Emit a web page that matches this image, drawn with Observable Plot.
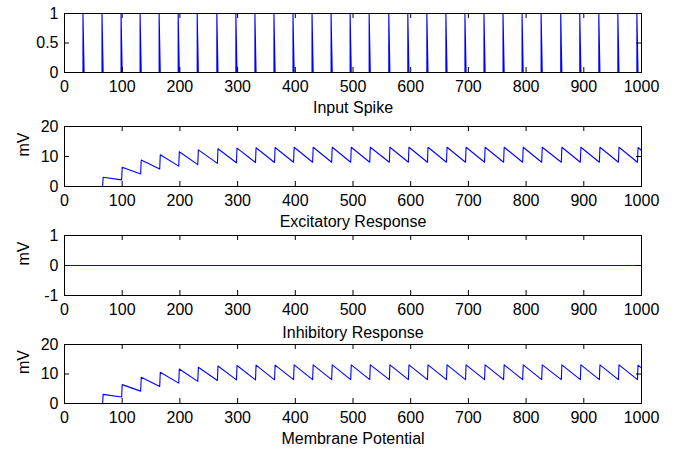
<!DOCTYPE html>
<html><head><meta charset="utf-8">
<script src="https://cdn.jsdelivr.net/npm/d3@7"></script>
<script src="https://cdn.jsdelivr.net/npm/@observablehq/plot@0.6"></script>
<style>
body{margin:0;background:#fff;}
#wrap{position:relative;width:686px;height:454px;overflow:hidden;background:#fff;}
#wrap svg{position:absolute;left:0;top:0;}
</style></head><body><div id="wrap"></div>
<script>
// ---- data ----
const xTicks = [0, 100, 200, 300, 400, 500, 600, 700, 800, 900, 1000];
const spikeTicks = [0, 0.5, 1];
const mvTicks = [0, 10, 20];
const inhTicks = [-1, 0, 1];

const spikeTimes = [32, 65, 98, 131, 164, 197, 230, 264, 297, 330, 363, 396, 429, 462, 495,
  528, 562, 595, 628, 661, 694, 727, 760, 793, 826, 860, 893, 926, 959, 992];

const excJumpTimes = [66, 99, 132, 165, 198, 231, 265, 298, 331, 364, 397, 430, 463, 496, 529,
  563, 596, 629, 662, 695, 728, 761, 794, 827, 861, 894, 927, 960, 993];
const excPre  = [0, 2.2, 4.2, 5.8, 6.8, 7.3, 7.7, 7.9, 8.0, 8.0, 8.1, 8.1, 8.1, 8.1, 8.1,
  8.1, 8.1, 8.1, 8.1, 8.1, 8.1, 8.1, 8.1, 8.1, 8.1, 8.1, 8.1, 8.1, 8.1];
const excPeak = [3.1, 6.4, 8.8, 10.6, 11.6, 12.2, 12.6, 12.8, 12.9, 13.0, 13.1, 13.1, 13.1, 13.1, 13.1,
  13.1, 13.1, 13.1, 13.1, 13.1, 13.1, 13.1, 13.1, 13.1, 13.1, 13.1, 13.1, 13.1, 13.0];
const excEnd = 12.0;

const inhTimes = [0, 1000];
const inhValues = [0, 0];

const memJumpTimes = [66, 99, 132, 165, 198, 231, 265, 298, 331, 364, 397, 430, 463, 496, 529,
  563, 596, 629, 662, 695, 728, 761, 794, 827, 861, 894, 927, 960, 993];
const memPre  = [0, 2.2, 4.2, 5.8, 6.9, 7.5, 7.8, 8.0, 8.0, 8.0, 8.1, 8.1, 8.1, 8.1, 8.1,
  8.1, 8.1, 8.1, 8.1, 8.1, 8.1, 8.1, 8.1, 8.1, 8.1, 8.1, 8.1, 8.1, 8.1];
const memPeak = [3.1, 6.4, 8.9, 10.6, 11.7, 12.3, 12.7, 12.9, 13.0, 13.0, 13.1, 13.1, 13.1, 13.1, 13.1,
  13.1, 13.1, 13.1, 13.1, 13.1, 13.1, 13.1, 13.1, 13.1, 13.1, 13.1, 13.1, 13.1, 13.0];
const memEnd = 12.0;

// ---- build line tables ----
const spikeLine = [{t: 0, v: 0}];
spikeTimes.forEach(s => spikeLine.push({t: s, v: 0}, {t: s, v: 1}, {t: s + 2, v: 0}));
spikeLine.push({t: 1000, v: 0});

function responseLine(jumps, pre, peak, end) {
  const out = [{t: 0, v: 0}];
  jumps.forEach((j, i) => out.push({t: j, v: pre[i]}, {t: j + 1, v: peak[i]}));
  out.push({t: 1000, v: end});
  return out;
}
const excLine = responseLine(excJumpTimes, excPre, excPeak, excEnd);
const memLine = responseLine(memJumpTimes, memPre, memPeak, memEnd);
const inhLine = inhTimes.map((t, i) => ({t, v: inhValues[i]}));

// ---- panels ----
const W = 686, H = 454, ML = 64, MR = 45, TICK = 5;
function panel({data, yDomain, yTicks, title, ylabel, top, bottom, titleDy}) {
  const fh = bottom - top, fw = W - ML - MR;
  const marks = [
    Plot.line(data, {x: "t", y: "v", stroke: "#0000ff", strokeWidth: 1.1}),
    // inward tick marks on all four sides
    Plot.tickX(xTicks, {x: d => d, stroke: "#000", insetTop: fh - TICK}),
    Plot.tickX(xTicks, {x: d => d, stroke: "#000", insetBottom: fh - TICK}),
    Plot.tickY(yTicks, {y: d => d, stroke: "#000", insetRight: fw - TICK}),
    Plot.tickY(yTicks, {y: d => d, stroke: "#000", insetLeft: fw - TICK}),
    Plot.frame({stroke: "#000", strokeWidth: 1}),
    Plot.axisX(xTicks, {anchor: "bottom", tickSize: 0, tickPadding: 8, label: null, tickFormat: d => String(d)}),
    Plot.axisY(yTicks, {anchor: "left", tickSize: 0, tickPadding: 6, label: null, tickFormat: d => String(d)}),
    Plot.text([title], {text: d => d, frameAnchor: "bottom", lineAnchor: "bottom", dy: titleDy || 40, fontSize: 16})
  ];
  if (ylabel) marks.push(Plot.text([ylabel], {text: d => d, frameAnchor: "left", rotate: -90, dx: -41, fontSize: 16}));
  const svg = Plot.plot({
    width: W, height: H,
    marginLeft: ML, marginRight: MR, marginTop: top, marginBottom: H - bottom,
    x: {domain: [0, 1000]},
    y: {domain: yDomain},
    style: {fontFamily: "'Liberation Sans', Arial, sans-serif", fontSize: "16px", background: "transparent", overflow: "visible", color: "#000"},
    marks
  });
  document.getElementById("wrap").appendChild(svg);
}

panel({data: spikeLine, yDomain: [0, 1], yTicks: spikeTicks, title: "Input Spike", top: 13, bottom: 72});
panel({data: excLine, yDomain: [0, 20], yTicks: mvTicks, title: "Excitatory Response", ylabel: "mV", top: 126, bottom: 186});
panel({data: inhLine, yDomain: [-1, 1], yTicks: inhTicks, title: "Inhibitory Response", ylabel: "mV", top: 235, bottom: 295, titleDy: 42});
panel({data: memLine, yDomain: [0, 20], yTicks: mvTicks, title: "Membrane Potential", ylabel: "mV", top: 344, bottom: 403});
</script></body></html>
